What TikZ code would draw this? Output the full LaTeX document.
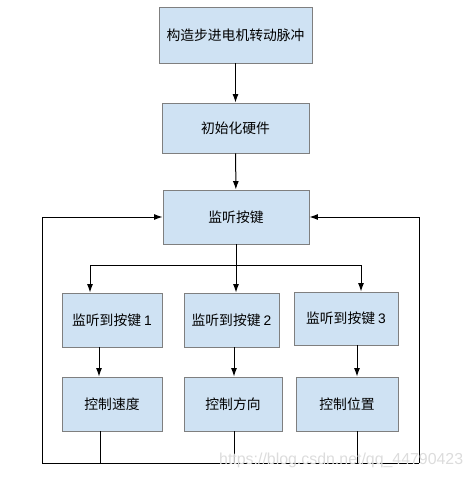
\documentclass[tikz,border=0pt]{standalone}
\usepackage{fontspec}
\setmainfont{Liberation Sans}
\newfontfamily\cjk{Noto Sans CJK SC}
\definecolor{boxblue}{HTML}{CFE2F3}
\definecolor{boxgray}{HTML}{7F7F7F}
\definecolor{markgray}{HTML}{DCDCDC}
\usetikzlibrary{arrows.meta,positioning,calc}

\begin{document}
\begin{tikzpicture}[x=1pt,y=-1pt,
    box/.style={draw=boxgray,fill=boxblue,line width=0.9pt,inner sep=0pt,
        font=\fontsize{13.8}{16}\selectfont\cjk},
    flow/.style={line width=1pt},
    >={Latex[length=8.5pt,width=6pt]}]
    % \draw[style=help lines,step=10] (0,0) grid (472,478);
    \useasboundingbox (0,0) rectangle (472,478);

    % main chain
    \node[box,minimum width=153,minimum height=56] (pulse) at (235.5,35) {构造步进电机转动脉冲};
    \node[box,minimum width=147,minimum height=50] (init) at (235.5,128) {初始化硬件};
    \node[box,minimum width=146,minimum height=54] (listen) at (236,217) {监听按键};

    % keys
    \node[box,minimum width=100,minimum height=54] (keyA) at (112,320) {监听到按键 {\normalfont 1}};
    \node[box,minimum width=95,minimum height=54] (keyB) at (231.5,320) {监听到按键 {\normalfont 2}};
    \node[box,minimum width=104,minimum height=53] (keyC) at (346,318.5) {监听到按键 {\normalfont 3}};

    % actions
    \node[box,minimum width=100,minimum height=54] (speed) at (112,404) {控制速度};
    \node[box,minimum width=98,minimum height=54] (dir) at (233,404) {控制方向};
    \node[box,minimum width=102,minimum height=54] (pos) at (347,404) {控制位置};

    \draw[flow,->] (pulse) -- (init);
    \draw[flow,->] (init) -- (listen);

    \coordinate (split) at (236,265);
    \draw[flow,->] (listen.south) -- ([xshift=4.5]keyB.north);
    \draw[flow,->] (split) -| ([xshift=-22]keyA.north);
    \draw[flow,->] (split) -| ([xshift=15]keyC.north);

    \draw[flow,->] ([xshift=-13]keyA.south) -- ([xshift=-13]speed.north);
    \draw[flow,->] ([xshift=2.5]keyB.south) -- ([xshift=1]dir.north);
    \draw[flow,->] ([xshift=11]keyC.south) -- ([xshift=10]pos.north);

    % feedback loop
    \coordinate (loopL) at (42,463);
    \coordinate (loopR) at (419,463);
    \draw[flow] (loopL) -- (loopR);
    \draw[flow] ([xshift=-12]speed.south) -- ([xshift=-12]speed.south |- loopL);
    \draw[flow] ([xshift=1]dir.south) -- ([xshift=1]dir.south |- loopL);
    \draw[flow] ([xshift=10]pos.south) -- ([xshift=10]pos.south |- loopL);
    \draw[flow,->] (loopL) |- (listen.west);
    \draw[flow,->] (loopR) |- (listen.east);

    \node[anchor=west,text=markgray,font=\fontsize{15.9}{18}\selectfont,inner sep=0pt] (mark) at (219,460) {https://blog.csdn.net/qq\_44790423};
\end{tikzpicture}
\end{document}
